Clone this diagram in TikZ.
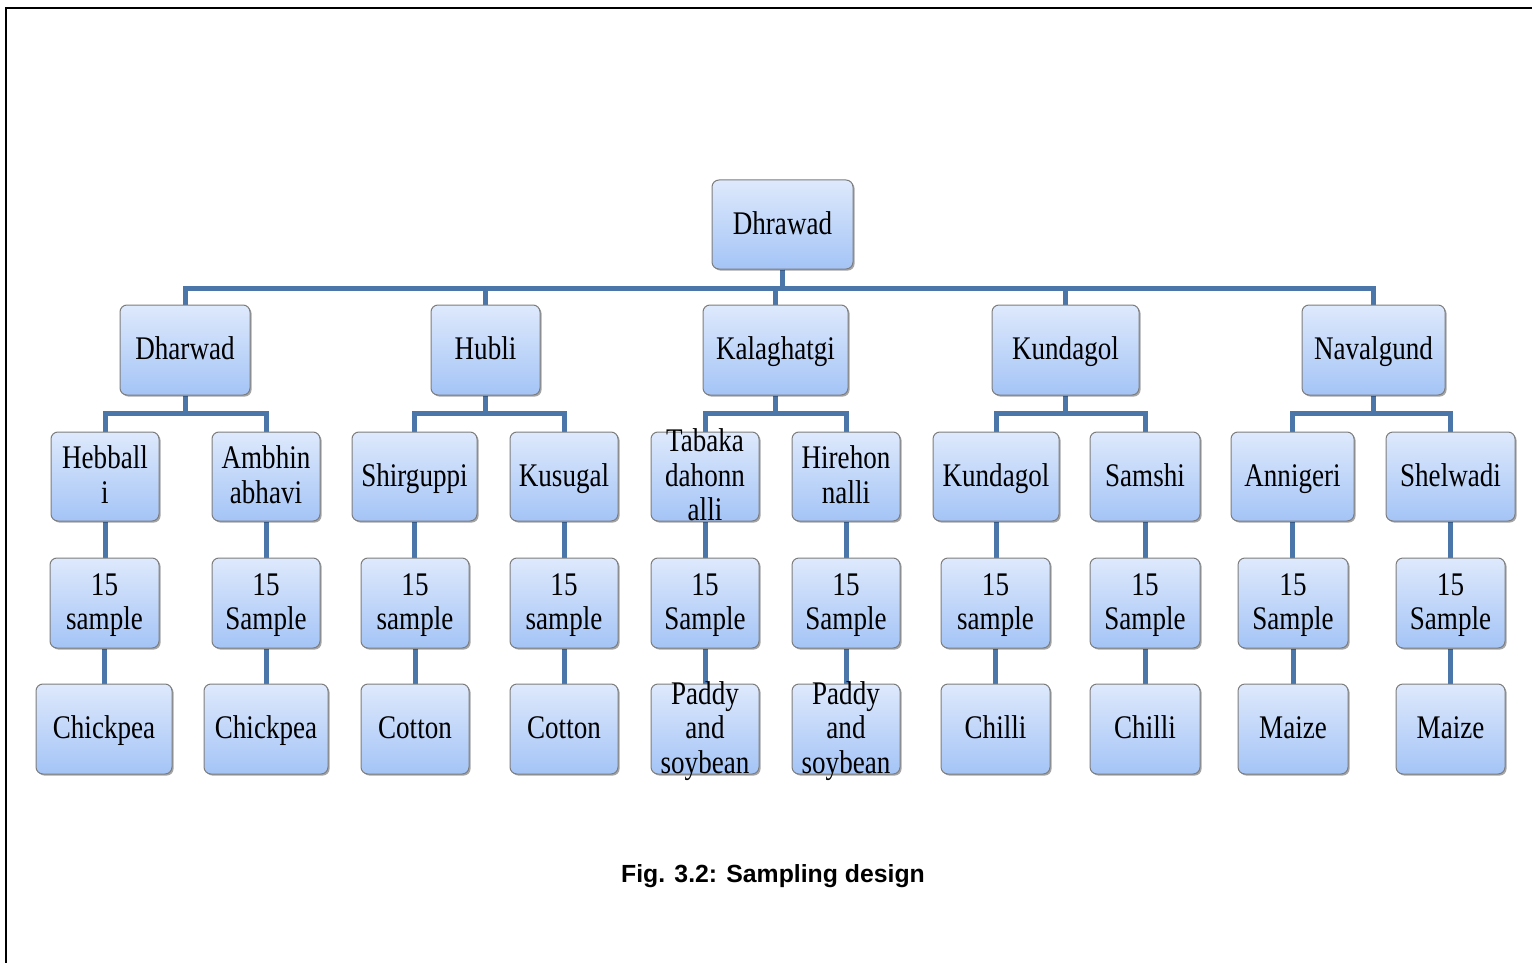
\documentclass[tikz,border=0pt]{standalone}
\usepackage{fontspec}
\setmainfont{Liberation Serif}[FakeStretch=0.82]
\newfontfamily\capfont{Liberation Sans}
\usetikzlibrary{shadows}
\definecolor{conn}{RGB}{74,118,170}
\definecolor{boxtop}{RGB}{222,233,252}
\definecolor{boxbot}{RGB}{164,196,246}
\definecolor{boxline}{RGB}{125,125,125}
\pgfdeclarelayer{bg}
\pgfsetlayers{bg,main}
\newcommand\bx[6]{\node[box, minimum width={(#4-#2)*0.5pt}, minimum height={(#5-#3)*0.5pt}, label={[lbl]center:{\strut #6\strut}}] (#1) at ({(#2+#4)/2},{(#3+#5)/2}) {};}
\begin{document}
\begin{tikzpicture}[x=0.5pt,y=-0.5pt,
  box/.style={draw=boxline, line width=0.5pt, rounded corners=3.5pt, top color=boxtop, bottom color=boxbot, inner sep=0pt,
    drop shadow={shadow xshift=0.8pt, shadow yshift=-0.8pt, opacity=0.35, fill=black}},
  lbl/.style={align=center, inner sep=0pt, yshift=-1.4pt, font=\fontsize{16.5}{17.25}\selectfont},
  conn/.style={draw=conn, line width=2.5pt}]
\useasboundingbox (0,0) rectangle (1532,963);
\draw[line width=1.3pt] (6,975) -- (6,8) -- (1545,8);
% level 1
\bx{top}{712}{180}{853}{269}{Dhrawad}
% level 2
\bx{d}{120}{305}{250}{395}{Dharwad}
\bx{h}{431}{305}{540}{395}{Hubli}
\bx{k}{703}{305}{848}{395}{Kalaghatgi}
\bx{ku}{992}{305}{1139}{395}{Kundagol}
\bx{n}{1302}{305}{1445}{395}{Navalgund}
% level 3
\bx{a1}{51}{432}{159}{521}{Hebball\\i}
\bx{a2}{212}{432}{320}{521}{Ambhin\\abhavi}
\bx{a3}{352}{432}{477}{521}{Shirguppi}
\bx{a4}{510}{432}{618}{521}{Kusugal}
\bx{a5}{651}{432}{759}{521}{Tabaka\\dahonn\\alli}
\bx{a6}{792}{432}{900}{521}{Hirehon\\nalli}
\bx{a7}{933}{432}{1059}{521}{Kundagol}
\bx{a8}{1090}{432}{1200}{521}{Samshi}
\bx{a9}{1231}{432}{1354}{521}{Annigeri}
\bx{a10}{1386}{432}{1515}{521}{Shelwadi}
% level 4
\bx{b1}{50}{558}{159}{648}{15\\sample}
\bx{b2}{212}{558}{320}{648}{15\\Sample}
\bx{b3}{361}{558}{469}{648}{15\\sample}
\bx{b4}{510}{558}{618}{648}{15\\sample}
\bx{b5}{651}{558}{759}{648}{15\\Sample}
\bx{b6}{792}{558}{900}{648}{15\\Sample}
\bx{b7}{941}{558}{1050}{648}{15\\sample}
\bx{b8}{1090}{558}{1200}{648}{15\\Sample}
\bx{b9}{1238}{558}{1348}{648}{15\\Sample}
\bx{b10}{1396}{558}{1505}{648}{15\\Sample}
% level 5
\bx{c1}{36}{684}{172}{774}{Chickpea}
\bx{c2}{204}{684}{328}{774}{Chickpea}
\bx{c3}{361}{684}{469}{774}{Cotton}
\bx{c4}{510}{684}{618}{774}{Cotton}
\bx{c5}{651}{684}{759}{774}{Paddy\\and\\soybean}
\bx{c6}{792}{684}{900}{774}{Paddy\\and\\soybean}
\bx{c7}{941}{684}{1050}{774}{Chilli}
\bx{c8}{1090}{684}{1200}{774}{Chilli}
\bx{c9}{1238}{684}{1348}{774}{Maize}
\bx{c10}{1396}{684}{1505}{774}{Maize}
% caption
\node[font=\capfont\bfseries\fontsize{12.4}{14}\selectfont, inner sep=0pt] (cap) at (773,876) {Fig. 3.2: Sampling design};
% connectors
\begin{pgfonlayer}{bg}
\foreach \c in {d,h,k,ku,n}
  \draw[conn] (top.south) -- ++(0,19) -| (\c.north);
\foreach \p/\c in {d/a1,d/a2,h/a3,h/a4,k/a5,k/a6,ku/a7,ku/a8,n/a9,n/a10}
  \draw[conn] (\p.south) -- ++(0,18) -| (\c.north);
\foreach \i in {1,...,10} {
  \draw[conn] (a\i.south) -- (a\i.south |- b\i.north);
  \draw[conn] (b\i.south) -- (b\i.south |- c\i.north);
}
\end{pgfonlayer}
\end{tikzpicture}
\end{document}
